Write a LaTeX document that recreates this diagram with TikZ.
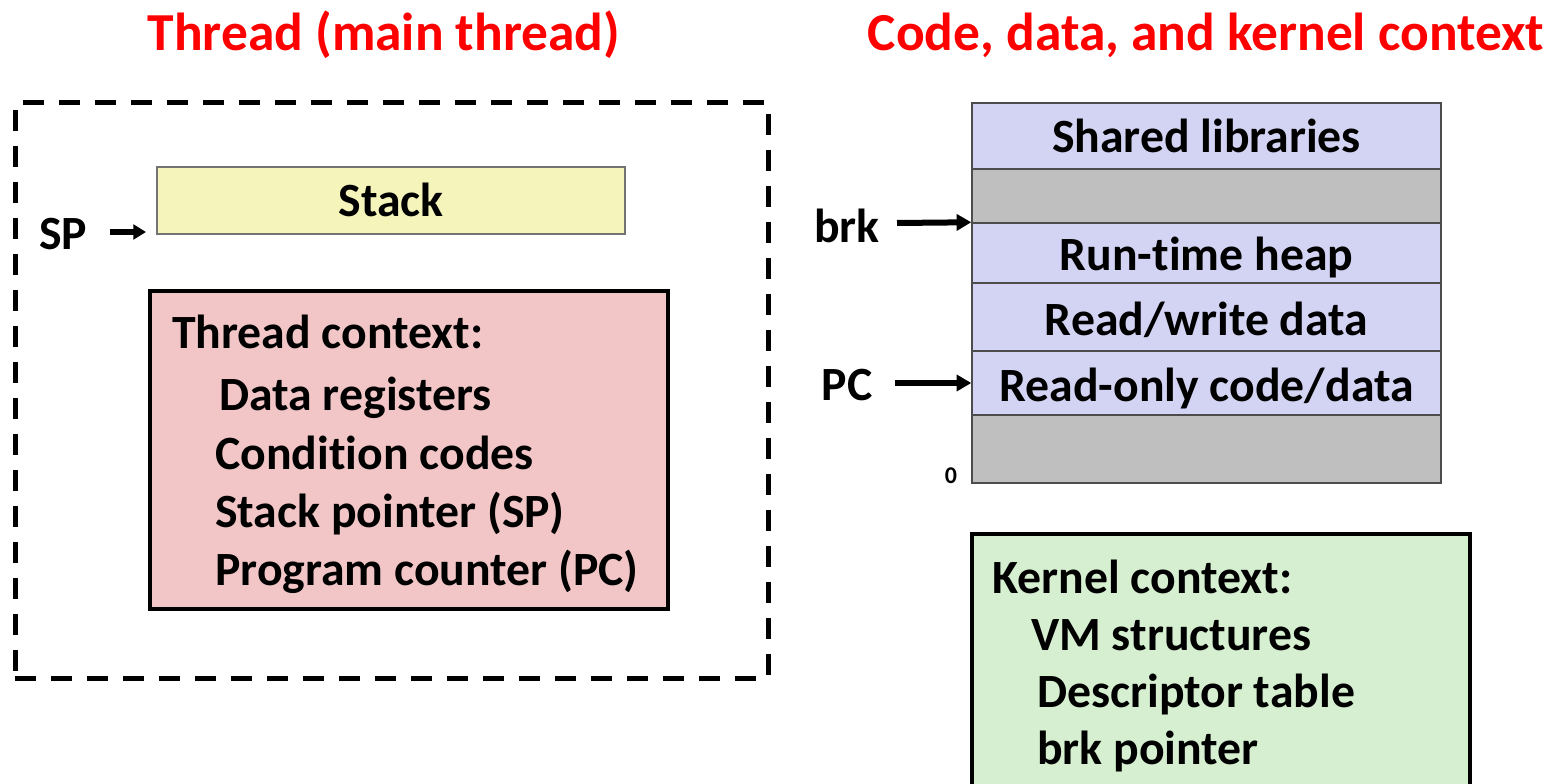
\documentclass[tikz,border=0pt]{standalone}
\usepackage{fontspec}
\setmainfont{Carlito}[Ligatures=NoCommon]
\usetikzlibrary{arrows.meta}
\definecolor{tred}{RGB}{255,0,0}
\definecolor{stackyel}{RGB}{245,245,187}
\definecolor{ctxpink}{RGB}{242,198,198}
\definecolor{lav}{RGB}{211,211,243}
\definecolor{gry}{RGB}{191,191,191}
\definecolor{kgreen}{RGB}{213,239,208}
\begin{document}
\begin{tikzpicture}[x=0.75pt,y=-0.75pt,
  txt/.style={inner sep=0pt,font=\fontsize{35.8}{42}\selectfont\bfseries},
  ttl/.style={inner sep=0pt,text=tred,font=\fontsize{40.1}{47}\selectfont\bfseries},
  row/.style={draw=black!70,line width=1.1pt,inner sep=0pt,minimum width=351.75pt},
  bigbox/.style={draw=black,line width=3.4pt,inner sep=0pt},
  arr/.style={line width=4.5pt,-{Triangle[length=11pt,width=12pt]}},
  sarr/.style={line width=3.8pt,-{Triangle[length=9.5pt,width=11pt]}}]
\useasboundingbox (0,0) rectangle (1555,784);
% titles
\node[ttl,anchor=base] (t1) at (384,51) {Thread (main thread)};
\node[ttl,anchor=base] (t2) at (1206,51) {Code, data, and kernel context};
% dashed thread box
\node[draw=black,line width=3.75pt,dash pattern=on 16pt off 11pt,inner sep=0pt,
      minimum width=564.75pt,minimum height=431.25pt] (thread) at (391.5,390.5) {};
% stack
\node[draw=black!55,line width=0.9pt,fill=stackyel,inner sep=0pt,
      minimum width=351pt,minimum height=50.25pt] (stack) at (391,200.5) {};
\node[txt,anchor=base] (stacktxt) at (391,217) {Stack};
\node[txt,anchor=base] (sp) at (63,249) {SP};
\coordinate (spa) at (110,232);
\coordinate (spb) at (146,232);
\draw[sarr] (spa) -- (spb);
% thread context
\node[bigbox,fill=ctxpink,minimum width=388.5pt,minimum height=238.5pt] (tctx) at (409,450) {};
\node[txt,anchor=base west] (c1) at (172,348) {Thread context:};
\node[txt,anchor=base west] (c2) at (219,410) {Data registers};
\node[txt,anchor=base west] (c3) at (215,469) {Condition codes};
\node[txt,anchor=base west] (c4) at (215,527) {Stack pointer (SP)};
\node[txt,anchor=base west] (c5) at (215,585) {Program counter (PC)};
% address space
\node[row,fill=lav,minimum height=49.5pt] (r1) at (1206.5,136) {};
\node[row,fill=gry,minimum height=40.5pt] (r2) at (1206.5,196) {};
\node[row,fill=lav,minimum height=45pt] (r3) at (1206.5,253) {};
\node[row,fill=lav,minimum height=51pt] (r4) at (1206.5,317) {};
\node[row,fill=lav,minimum height=48pt] (r5) at (1206.5,383) {};
\node[row,fill=gry,minimum height=51pt] (r6) at (1206.5,449) {};
\node[txt,anchor=base] (r1t) at (1206.5,153) {Shared libraries};
\node[txt,anchor=base] (r3t) at (1206.5,271) {Run-time heap};
\node[txt,anchor=base] (r4t) at (1206.5,335) {Read/write data};
\node[txt,anchor=base] (r5t) at (1206.5,401) {Read-only code/data};
\node[txt,anchor=base] (brk) at (847,243) {brk};
\node[txt,anchor=base] (pc) at (847,400) {PC};
\node[inner sep=0pt,anchor=base,font=\fontsize{18}{20}\selectfont\bfseries] (zero) at (951,483) {0};
\coordinate (brka) at (897,223);
\coordinate (pca) at (895,383);
\draw[arr] (brka) -- (r3.north west);
\draw[arr] (pca) -- (r5.west);
% kernel context
\node[bigbox,fill=kgreen,minimum width=373.5pt,minimum height=199.5pt] (kctx) at (1221,667) {};
\node[txt,anchor=base west] (k1) at (992,593) {Kernel context:};
\node[txt,anchor=base west] (k2) at (1031,650) {VM structures};
\node[txt,anchor=base west] (k3) at (1037,707) {Descriptor table};
\node[txt,anchor=base west] (k4) at (1037,764) {brk pointer};
\end{tikzpicture}
\end{document}
